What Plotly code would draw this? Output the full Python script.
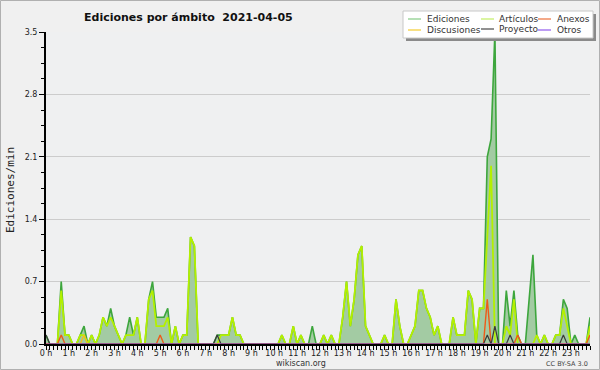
import plotly.graph_objects as go

# 10-minute bins over the day (minutes since 00:00)
minutes = list(range(0, 1440, 10))

hour_ticks = list(range(0, 1440, 60))
hour_labels = [f"{h} h" for h in range(24)]

y_ticks = [0.0, 0.7, 1.4, 2.1, 2.8, 3.5]
y_labels = ["0.0", "0.7", "1.4", "2.1", "2.8", "3.5"]

ediciones = [
    0.1, 0, 0, 0, 0.7, 0.1, 0.1, 0, 0, 0.1,
    0.2, 0, 0.1, 0, 0.1, 0.3, 0.2, 0.4, 0.2, 0.1,
    0, 0.1, 0.3, 0.1, 0.3, 0, 0, 0.5, 0.7, 0.3,
    0.3, 0.3, 0.4, 0, 0.2, 0, 0.1, 0.1, 1.2, 1.1,
    0, 0, 0, 0, 0, 0.1, 0.1, 0.1, 0.1, 0.3,
    0.1, 0.1, 0, 0, 0, 0, 0, 0, 0, 0,
    0, 0, 0.1, 0, 0, 0.2, 0, 0.1, 0, 0,
    0.2, 0, 0, 0.1, 0, 0.1, 0, 0, 0.3, 0.7,
    0.2, 0.5, 1.0, 1.1, 0.2, 0.1, 0, 0, 0, 0.1,
    0, 0, 0.5, 0.2, 0, 0, 0.1, 0.2, 0.6, 0.6,
    0.4, 0.3, 0.1, 0.2, 0, 0, 0, 0.3, 0.1, 0.1,
    0.1, 0.6, 0.5, 0, 0.4, 0.4, 2.1, 2.3, 3.5, 0,
    0, 0.6, 0.2, 0.6, 0.1, 0, 0, 0.5, 1.0, 0.1,
    0, 0.1, 0, 0, 0.1, 0.1, 0.5, 0.4, 0, 0.1,
    0, 0, 0, 0.3,
]

articulos = [
    0, 0, 0, 0, 0.6, 0.1, 0.1, 0, 0, 0.1,
    0.1, 0, 0.1, 0, 0.1, 0.3, 0.2, 0.3, 0.2, 0.1,
    0, 0.1, 0.1, 0.1, 0.3, 0, 0, 0.5, 0.6, 0.2,
    0.2, 0.2, 0.3, 0, 0.2, 0, 0.1, 0.1, 1.2, 1.1,
    0, 0, 0, 0, 0, 0, 0.1, 0.1, 0.1, 0.3,
    0.1, 0.1, 0, 0, 0, 0, 0, 0, 0, 0,
    0, 0, 0.1, 0, 0, 0.2, 0, 0.1, 0, 0,
    0, 0, 0, 0.1, 0, 0.1, 0, 0, 0.3, 0.7,
    0.2, 0.5, 1.0, 1.1, 0.2, 0.1, 0, 0, 0, 0.1,
    0, 0, 0.5, 0.2, 0, 0, 0.1, 0.2, 0.6, 0.6,
    0.4, 0.3, 0.1, 0.2, 0, 0, 0, 0.3, 0.1, 0.1,
    0.1, 0.6, 0.5, 0, 0.4, 0.4, 1.2, 2.0, 0, 0,
    0, 0.2, 0.1, 0.5, 0, 0, 0, 0, 0, 0.1,
    0, 0.1, 0, 0, 0.1, 0.1, 0.4, 0.2, 0, 0,
    0, 0, 0, 0.2,
]

discusiones = [
    0, 0, 0, 0, 0, 0, 0, 0, 0, 0,
    0.1, 0, 0, 0, 0, 0, 0, 0, 0, 0,
    0, 0, 0, 0, 0, 0, 0, 0, 0, 0,
    0, 0, 0, 0, 0, 0, 0, 0, 0, 0,
    0, 0, 0, 0, 0, 0, 0, 0, 0, 0,
    0, 0, 0, 0, 0, 0, 0, 0, 0, 0,
    0, 0, 0, 0, 0, 0, 0, 0, 0, 0,
    0, 0, 0, 0, 0, 0, 0, 0, 0, 0,
    0, 0, 0, 0, 0, 0, 0, 0, 0, 0,
    0, 0, 0, 0, 0, 0, 0, 0, 0, 0,
    0, 0, 0, 0, 0, 0, 0, 0, 0, 0,
    0, 0, 0, 0, 0, 0, 0, 0, 0, 0,
    0, 0, 0, 0, 0, 0, 0, 0, 0, 0,
    0, 0, 0, 0, 0, 0, 0, 0, 0, 0,
    0, 0, 0, 0,
]

anexos = [
    0, 0, 0, 0, 0.1, 0, 0, 0, 0, 0,
    0, 0, 0, 0, 0, 0, 0, 0, 0, 0,
    0, 0, 0, 0, 0, 0, 0, 0, 0, 0,
    0.1, 0, 0, 0, 0, 0, 0, 0, 0, 0,
    0, 0, 0, 0, 0, 0, 0, 0, 0, 0,
    0, 0, 0, 0, 0, 0, 0, 0, 0, 0,
    0, 0, 0, 0, 0, 0, 0, 0, 0, 0,
    0, 0, 0, 0, 0, 0, 0, 0, 0, 0,
    0, 0, 0, 0, 0, 0, 0, 0, 0, 0,
    0, 0, 0, 0, 0, 0, 0, 0, 0, 0,
    0, 0, 0, 0, 0, 0, 0, 0, 0, 0,
    0, 0, 0, 0, 0, 0, 0.5, 0, 0, 0,
    0, 0, 0, 0, 0.1, 0, 0, 0, 0, 0,
    0, 0, 0, 0, 0, 0, 0, 0, 0, 0,
    0, 0, 0, 0.1,
]

proyecto = [
    0.1, 0, 0, 0, 0, 0, 0, 0, 0, 0,
    0, 0, 0, 0, 0, 0, 0, 0, 0, 0,
    0, 0, 0, 0, 0, 0, 0, 0, 0, 0,
    0, 0, 0, 0, 0, 0, 0, 0, 0, 0,
    0, 0, 0, 0, 0, 0.1, 0, 0, 0, 0,
    0, 0, 0, 0, 0, 0, 0, 0, 0, 0,
    0, 0, 0, 0, 0, 0, 0, 0, 0, 0,
    0, 0, 0, 0, 0, 0, 0, 0, 0, 0,
    0, 0, 0, 0, 0, 0, 0, 0, 0, 0,
    0, 0, 0, 0, 0, 0, 0, 0, 0, 0,
    0, 0, 0, 0, 0, 0, 0, 0, 0, 0,
    0, 0, 0, 0, 0, 0, 0.1, 0, 0.2, 0,
    0, 0, 0.1, 0, 0, 0, 0, 0, 0, 0,
    0, 0, 0, 0, 0, 0, 0.1, 0, 0, 0,
    0, 0, 0, 0,
]

otros = [0] * 144  # no "Otros" edits visible during the day

series_colors = {
    "Ediciones": "#3da63d",
    "Artículos": "#b4f000",
    "Anexos": "#ee5a18",
    "Discusiones": "#f0c020",
    "Proyecto": "#3a3a3a",
    "Otros": "#9b5cf0",
}
legend_colors = {
    "Ediciones": "#8fcf8f",
    "Artículos": "#c8f070",
    "Anexos": "#ee7a4a",
    "Discusiones": "#f5cf40",
    "Proyecto": "#555555",
    "Otros": "#9a66ee",
}

FONT = "DejaVu Sans"

fig = go.Figure()
fig.add_trace(go.Scatter(x=minutes, y=ediciones, mode="lines", name="Ediciones",
                         line=dict(color=series_colors["Ediciones"], width=1.6),
                         fill="tozeroy", fillcolor="#a3cba3", showlegend=False))
fig.add_trace(go.Scatter(x=minutes, y=articulos, mode="lines", name="Artículos",
                         line=dict(color=series_colors["Artículos"], width=1.8), showlegend=False))
fig.add_trace(go.Scatter(x=minutes, y=discusiones, mode="lines", name="Discusiones",
                         line=dict(color=series_colors["Discusiones"], width=1.4), showlegend=False))
fig.add_trace(go.Scatter(x=minutes, y=anexos, mode="lines", name="Anexos",
                         line=dict(color=series_colors["Anexos"], width=1.4), showlegend=False))
fig.add_trace(go.Scatter(x=minutes, y=proyecto, mode="lines", name="Proyecto",
                         line=dict(color=series_colors["Proyecto"], width=1.2), showlegend=False))
fig.add_trace(go.Scatter(x=minutes, y=otros, mode="lines", name="Otros",
                         line=dict(color=series_colors["Otros"], width=1.2), showlegend=False))

# pixel helpers for layout placement (plot area: x 46..590, y 32..344)
L, R, T, B = 46, 590, 32, 344
def px(x):
    return (x - L) / (R - L)
def py(y):
    return (B - y) / (B - T)

shapes = []
annotations = []

# outer frame
shapes.append(dict(type="rect", xref="paper", yref="paper",
                   x0=px(0.5), x1=px(599.5), y0=py(369.5), y1=py(0.5),
                   line=dict(color="#b0b0b0", width=1), fillcolor="rgba(0,0,0,0)", layer="below"))

# legend box with shadow
shapes.append(dict(type="rect", xref="paper", yref="paper",
                   x0=px(406), x1=px(596), y0=py(41), y1=py(14),
                   line=dict(width=0), fillcolor="#8a8a8a"))
shapes.append(dict(type="rect", xref="paper", yref="paper",
                   x0=px(403), x1=px(593), y0=py(38), y1=py(11),
                   line=dict(color="#c8c8c8", width=1), fillcolor="#ffffff"))

legend_layout = [
    ("Ediciones", 408, 425, 19), ("Artículos", 481, 497, 19), ("Anexos", 538, 555, 19),
    ("Discusiones", 408, 425, 30), ("Proyecto", 481, 497, 29), ("Otros", 538, 555, 30),
]
for name, lx, tx, ly in legend_layout:
    shapes.append(dict(type="line", xref="paper", yref="paper",
                       x0=px(lx), x1=px(lx + 13), y0=py(ly), y1=py(ly),
                       line=dict(color=legend_colors[name], width=1.3)))
    annotations.append(dict(text=name, xref="paper", yref="paper", x=px(tx), y=py(ly),
                            xanchor="left", yanchor="middle", showarrow=False,
                            font=dict(family=FONT, size=9, color="#333333")))

# title
annotations.append(dict(text="<b>Ediciones por ámbito \u00a02021-04-05</b>",
                        xref="paper", yref="paper", x=px(188), y=py(18),
                        xanchor="center", yanchor="middle", showarrow=False,
                        font=dict(family=FONT, size=11, color="#111111")))
# y-axis title
annotations.append(dict(text="Ediciones/min", xref="paper", yref="paper",
                        x=px(10), y=py(190), textangle=-90,
                        xanchor="center", yanchor="middle", showarrow=False,
                        font=dict(family="DejaVu Sans Mono", size=11, color="#222222")))
# footer texts
annotations.append(dict(text="wikiscan.org", xref="paper", yref="paper",
                        x=px(301), y=py(363), xanchor="center", yanchor="middle",
                        showarrow=False, font=dict(family=FONT, size=8, color="#333333")))
annotations.append(dict(text="CC BY-SA 3.0", xref="paper", yref="paper",
                        x=px(590), y=py(363.5), xanchor="right", yanchor="middle",
                        showarrow=False, font=dict(family=FONT, size=6.5, color="#444444")))

fig.update_layout(
    width=600, height=370,
    margin=dict(l=L, r=600 - R, t=T, b=370 - B),
    paper_bgcolor="#f0f0f0",
    plot_bgcolor="#eff0f1",
    showlegend=False,
    shapes=shapes,
    annotations=annotations,
    xaxis=dict(
        range=[0, 1430], tickmode="array", tickvals=hour_ticks, ticktext=hour_labels,
        ticks="outside", ticklen=4, tickwidth=1, tickcolor="#000000",
        ticklabelstandoff=-4,
        showline=True, linecolor="#000000", linewidth=2,
        showgrid=False, zeroline=False,
        tickfont=dict(family=FONT, size=8, color="#222222"),
        minor=dict(tickmode="array", tickvals=minutes, ticks="outside", ticklen=4,
                   tickwidth=1, tickcolor="#000000", showgrid=False),
        fixedrange=True,
    ),
    yaxis=dict(
        range=[0, 3.5], tickmode="array", tickvals=y_ticks, ticktext=y_labels,
        ticks="outside", ticklen=5, tickwidth=1, tickcolor="#000000",
        showline=True, linecolor="#000000", linewidth=2,
        showgrid=True, gridcolor="#cccccc", gridwidth=1, zeroline=False,
        tickfont=dict(family=FONT, size=8, color="#222222"),
        minor=dict(tickmode="array", tickvals=[i * 0.175 for i in range(21)],
                   ticks="outside", ticklen=3, tickwidth=1, tickcolor="#000000", showgrid=False),
        fixedrange=True,
    ),
)

fig.write_html("out.html", config={"displayModeBar": False},
               post_script="document.body.style.margin='0';document.body.style.background='#f0f0f0';")
